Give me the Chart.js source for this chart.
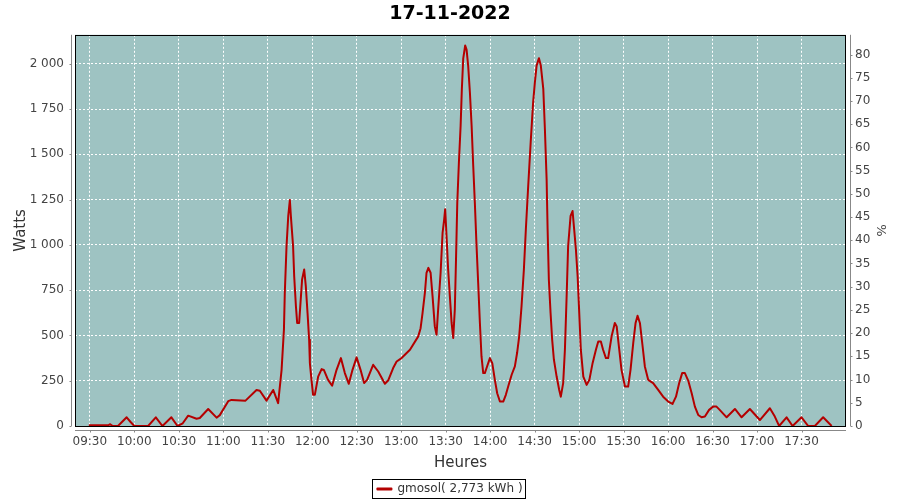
<!DOCTYPE html>
<html>
<head>
<meta charset="utf-8">
<script src="https://cdn.jsdelivr.net/npm/chart.js@4.4.0/dist/chart.umd.min.js"></script>
<style>
  html, body { margin: 0; padding: 0; background: #fff; }
</style>
</head>
<body>
<canvas id="chart" width="900" height="500"></canvas>
<script>
// --- DATA ---
const title = "17-11-2022";
const seriesLabel = "gmosol( 2,773 kWh )";

const times = [
  "09:29:20","09:42:30","09:43:30","09:45:30","09:49:00","09:52:00","09:54:50","09:57:30","10:00:00",
  "10:09:20","10:14:30","10:19:00","10:25:00","10:29:10","10:32:40","10:36:20","10:42:00","10:44:10",
  "10:49:50","10:55:30","10:57:40","11:03:20","11:05:35","11:15:00","11:22:25","11:24:40","11:29:10",
  "11:33:40","11:37:00","11:39:20","11:40:55","11:41:30","11:42:40","11:43:50","11:44:55","11:45:35",
  "11:46:15","11:47:05","11:47:50","11:49:00","11:49:50","11:51:10","11:52:05","11:53:10","11:54:35",
  "11:55:40","11:56:50","11:57:55","11:58:25","11:59:30","12:00:35","12:01:45","12:04:00","12:06:20",
  "12:07:50","12:10:40","12:13:25","12:16:25","12:19:20","12:22:00","12:24:40","12:27:10","12:29:55",
  "12:32:35","12:35:00","12:37:00","12:41:05","12:44:30","12:49:00","12:51:10","12:54:35","12:56:55",
  "13:00:15","13:05:55","13:11:30","13:13:05","13:14:25","13:16:00","13:17:05","13:18:20","13:19:50",
  "13:21:10","13:22:40","13:23:50","13:24:55","13:26:35","13:27:55","13:29:00","13:29:40","13:30:35",
  "13:31:40","13:32:50","13:34:00","13:35:05","13:36:10","13:36:55","13:37:50","13:38:55","13:40:05",
  "13:40:55","13:41:50","13:43:10","13:44:05","13:45:10","13:46:20","13:47:30","13:48:35","13:49:40",
  "13:50:50","13:51:55","13:53:05","13:54:10","13:55:20","13:56:25","13:57:35","13:59:50","14:01:25",
  "14:03:10","14:04:45","14:06:35","14:08:50","14:10:35","14:12:10","14:14:30","14:16:40","14:18:10",
  "14:19:35","14:21:10","14:22:45","14:24:05","14:25:40","14:27:20","14:29:00","14:30:10","14:31:20",
  "14:32:55","14:34:10","14:35:50","14:36:55","14:38:05","14:38:45","14:39:35","14:40:45","14:41:50",
  "14:43:00","14:44:50","14:46:35","14:47:40","14:49:15","14:50:25","14:51:35","14:52:35","14:54:15",
  "14:55:35","14:56:40","14:57:50","14:59:00","15:00:00","15:01:10","15:02:50","15:05:05","15:06:55",
  "15:09:05","15:11:20","15:12:55","15:14:40","15:16:10","15:18:05","15:19:35","15:21:55","15:24:05",
  "15:25:20","15:26:50","15:28:35","15:30:55","15:33:05","15:34:40","15:36:30","15:38:05","15:39:25",
  "15:41:00","15:42:50","15:44:20","15:46:35","15:49:55","15:53:20","15:56:40","16:00:05","16:03:00",
  "16:05:20","16:07:30","16:09:30","16:11:20","16:13:35","16:15:55","16:18:05","16:20:20","16:22:35",
  "16:24:50","16:27:40","16:30:25","16:32:40","16:34:30","16:39:30","16:45:05","16:49:35","16:55:10",
  "17:01:55","17:08:40","17:12:00","17:14:55","17:19:55","17:24:00","17:30:00","17:34:30","17:39:00",
  "17:44:35","17:50:20"
];

const watts = [
  4, 4, 10, 0, 0, 25, 48, 22, 0,
  0, 48, 0, 48, 0, 15, 57, 40, 44,
  94, 46, 60, 137, 144, 140, 199, 195, 140,
  199, 126, 310, 532, 735, 993, 1160, 1248, 1160,
  1086, 993, 827, 661, 569, 569, 680, 809, 864,
  772, 624, 476, 347, 255, 172, 172, 273, 314,
  310, 255, 222, 310, 375, 292, 233, 310, 379,
  310, 237, 255, 338, 301, 233, 251, 320, 356,
  375, 421, 495, 540, 624, 737, 846, 873, 846,
  716, 550, 504, 643, 846, 1067, 1141, 1197, 1049,
  864, 716, 569, 486, 643, 901, 1234, 1455, 1658,
  1862, 2028, 2101, 2079, 1990, 1843, 1658, 1437, 1234,
  993, 791, 569, 384, 292, 292, 320, 375, 347,
  255, 181, 135, 135, 172, 218, 283, 329, 403,
  495, 661, 864, 1086, 1326, 1566, 1788, 1898, 1990,
  2031, 1990, 1862, 1640, 1363, 1086, 809, 624, 476,
  366, 273, 199, 162, 237, 421, 716, 993, 1160,
  1187, 1086, 975, 827, 640, 420, 273, 227, 255,
  347, 421, 467, 467, 421, 375, 375, 495, 569,
  550, 439, 310, 218, 218, 310, 458, 569, 609,
  569, 439, 329, 255, 237, 199, 162, 135, 122,
  162, 237, 292, 292, 251, 181, 107, 61, 48,
  52, 89, 107, 107, 92, 48, 94, 48, 94,
  33, 98, 52, 0, 48, 0, 48, 0, 0,
  48, 0
];

// axis ranges and tick steps
const xStart = "09:20";
const xEnd = "18:00";
const xFirstTick = "09:30";
const xStep = 30;       // minutes
const wattsMax = 2160;
const wattsStep = 250;
const percentMax = 84.25;
const percentStep = 5;

// --- helpers ---
const toMin = (s) => {
  const p = s.split(":").map(Number);
  return p[0] * 60 + p[1] + (p[2] || 0) / 60;
};
const fmtTime = (v) => {
  const h = Math.floor(v / 60), m = Math.round(v % 60);
  return String(h).padStart(2, "0") + ":" + String(m).padStart(2, "0");
};
const fmtThousands = (v) => String(v).replace(/\B(?=(\d{3})+(?!\d))/g, " ");

const points = times.map((t, i) => ({ x: toMin(t), y: watts[i] }));

Chart.defaults.font.family = "'DejaVu Sans', sans-serif";
Chart.defaults.font.size = 12;
Chart.defaults.color = "#444";

// ticks every `step` from `first` up to (not incl.) the axis max
const stepTicks = (first, step) => (s) => {
  const out = [];
  for (let v = first; v < s.max - 1e-6; v += step) out.push({ value: v });
  s.ticks = out;
};

// plot background, frame, offset axis lines, legend box
const decorPlugin = {
  id: "decor",
  beforeDraw(chart) {
    const { ctx, chartArea: a } = chart;
    ctx.save();
    ctx.fillStyle = "#9ec3c2";
    ctx.fillRect(a.left, a.top, a.right - a.left, a.bottom - a.top);
    ctx.restore();
  },
  afterDatasetsDraw(chart) {
    const { ctx, chartArea: a, scales } = chart;
    ctx.save();
    ctx.strokeStyle = "#000";
    ctx.lineWidth = 1;
    ctx.strokeRect(Math.round(a.left) + 0.5, Math.round(a.top) + 0.5,
      Math.round(a.right - a.left) - 1, Math.round(a.bottom - a.top));

    ctx.strokeStyle = "#888";
    ctx.beginPath();
    // left axis
    const lx = Math.round(a.left) - 3.5;
    ctx.moveTo(lx, a.top); ctx.lineTo(lx, a.bottom);
    scales.y.ticks.forEach(t => {
      const y = Math.round(scales.y.getPixelForValue(t.value)) + 0.5;
      ctx.moveTo(lx - 2, y); ctx.lineTo(lx, y);
    });
    // right axis
    const rx = Math.round(a.right) + 4.5;
    ctx.moveTo(rx, a.top); ctx.lineTo(rx, a.bottom);
    scales.y1.ticks.forEach(t => {
      const y = Math.round(scales.y1.getPixelForValue(t.value)) + 0.5;
      ctx.moveTo(rx, y); ctx.lineTo(rx + 2, y);
    });
    // bottom axis
    const by = Math.round(a.bottom) + 4.5;
    ctx.moveTo(a.left, by); ctx.lineTo(a.right, by);
    scales.x.ticks.forEach(t => {
      const x = Math.round(scales.x.getPixelForValue(t.value)) + 0.5;
      ctx.moveTo(x, by); ctx.lineTo(x, by + 2);
    });
    ctx.stroke();
    ctx.restore();
  },
  afterDraw(chart) {
    const hb = chart.legend && chart.legend.legendHitBoxes && chart.legend.legendHitBoxes[0];
    if (!hb) return;
    const { ctx } = chart;
    ctx.save();
    ctx.strokeStyle = "#000";
    ctx.lineWidth = 1;
    ctx.strokeRect(Math.round(hb.left) - 4.5, Math.round(hb.top) - 3.5,
      Math.round(hb.width) + 8, Math.round(hb.height) + 7);
    ctx.restore();
  }
};

new Chart(document.getElementById("chart"), {
  type: "line",
  data: {
    datasets: [{
      label: seriesLabel,
      data: points,
      yAxisID: "y",
      borderColor: "#b40000",
      backgroundColor: "#b40000",
      borderWidth: 2,
      borderJoinStyle: "round",
      pointRadius: 0,
      tension: 0,
      fill: false,
      clip: 0
    }]
  },
  options: {
    responsive: false,
    animation: false,
    layout: { padding: { left: 0, right: 0, top: 0, bottom: -5 } },
    plugins: {
      title: {
        display: true,
        text: title,
        color: "#000",
        font: { size: 19, weight: "bold" },
        padding: { top: 3, bottom: 9 }
      },
      legend: {
        display: true,
        position: "bottom",
        labels: { boxWidth: 14, boxHeight: 1, padding: 8, color: "#333", font: { size: 12 } }
      },
      tooltip: { enabled: false }
    },
    scales: {
      x: {
        type: "linear",
        min: toMin(xStart),
        max: toMin(xEnd),
        afterBuildTicks: stepTicks(toMin(xFirstTick), xStep),
        afterFit: (s) => { s.height = 49; },
        ticks: { padding: 9, maxRotation: 0, autoSkip: false, callback: (v) => fmtTime(v) },
        grid: { color: "#fff", lineWidth: 1, drawTicks: false },
        border: { display: false, dash: [2, 2] },
        title: { display: true, text: "Heures", font: { size: 15 }, color: "#333", padding: { top: 0, bottom: 3 } }
      },
      y: {
        position: "left",
        min: 0,
        max: wattsMax,
        afterBuildTicks: stepTicks(0, wattsStep),
        afterFit: (s) => { s.width = 75; },
        ticks: { padding: 11, callback: (v) => fmtThousands(v) },
        grid: { color: "#fff", lineWidth: 1, drawTicks: false },
        border: { display: false, dash: [2, 2] },
        title: { display: true, text: "Watts", font: { size: 15 }, color: "#333", padding: { top: 12, bottom: 0 } }
      },
      y1: {
        position: "right",
        display: true,
        min: 0,
        max: percentMax,
        afterBuildTicks: stepTicks(0, percentStep),
        afterFit: (s) => { s.width = 54; },
        ticks: { padding: 9 },
        grid: { drawOnChartArea: false, drawTicks: false },
        border: { display: false },
        title: { display: true, text: "%", font: { size: 13 }, color: "#444", padding: { top: 12, bottom: 0 } }
      }
    }
  },
  plugins: [decorPlugin]
});
</script>
</body>
</html>
